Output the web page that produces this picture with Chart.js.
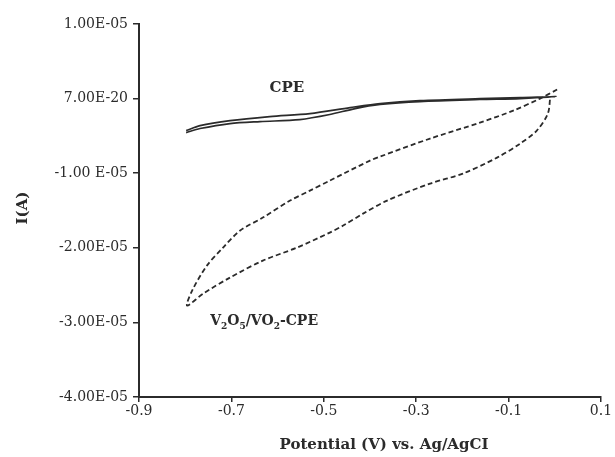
<!DOCTYPE html>
<html>
<head>
<meta charset="utf-8">
<script src="https://cdn.jsdelivr.net/npm/chart.js@4.4.1/dist/chart.umd.min.js"></script>
<style>
  html, body { margin: 0; padding: 0; background: #fff; }
  #wrap { width: 615px; height: 457px; }
</style>
</head>
<body>
<div id="wrap"><canvas id="cv"></canvas></div>
<script>
const xTicks = [-0.9, -0.7, -0.5, -0.3, -0.1, 0.1];
const yTicks = [-4e-5, -3e-5, -2e-5, -1e-5, 0, 1e-5];
const yTickLabels = ['-4.00E-05', '-3.00E-05', '-2.00E-05', '-1.00 E-05', '7.00E-20', '1.00E-05'];

// bare CPE, one closed loop (V, A)
const cpePotential = [-0.798, -0.768, -0.703, -0.617, -0.530, -0.443, -0.378, -0.292, -0.162, -0.075, 0.003,
  -0.075, -0.162, -0.292, -0.378, -0.432, -0.487, -0.552, -0.638, -0.703, -0.768, -0.798];
const cpeCurrent = [-0.429e-5, -0.362e-5, -0.295e-5, -0.241e-5, -0.201e-5, -0.121e-5, -0.067e-5, -0.027e-5, 0, 0.013e-5, 0.027e-5,
  0, -0.013e-5, -0.040e-5, -0.080e-5, -0.134e-5, -0.214e-5, -0.282e-5, -0.308e-5, -0.335e-5, -0.402e-5, -0.456e-5];

// V2O5/VO2 modified CPE
const vPotential = [0.005, -0.032, -0.090, -0.162, -0.270, -0.378, -0.400, -0.487, -0.530, -0.573, -0.632, -0.681, -0.718, -0.753, -0.785, -0.796,
  -0.761, -0.703, -0.632, -0.558, -0.487, -0.458, -0.415, -0.363, -0.270, -0.199, -0.125, -0.075, -0.039, -0.015, -0.010];
const vCurrent = [0.121e-5, 0, -0.161e-5, -0.322e-5, -0.536e-5, -0.777e-5, -0.831e-5, -1.099e-5, -1.233e-5, -1.367e-5, -1.595e-5, -1.769e-5, -1.997e-5, -2.239e-5, -2.574e-5, -2.775e-5,
  -2.614e-5, -2.399e-5, -2.172e-5, -1.997e-5, -1.796e-5, -1.702e-5, -1.542e-5, -1.367e-5, -1.139e-5, -1.005e-5, -0.791e-5, -0.603e-5, -0.429e-5, -0.201e-5, 0.013e-5];

const toPoints = (xs, ys) => xs.map((x, i) => ({ x: x, y: ys[i] }));

const FONT = 'DejaVu Serif';
const INK = '#2b2b2b';

// labels written on the plot
const textPlugin = {
  id: 'texts',
  afterDraw(chart) {
    const { ctx, scales } = chart;
    const px = v => scales.x.getPixelForValue(v);
    const py = v => scales.y.getPixelForValue(v);
    ctx.save();
    ctx.fillStyle = INK;
    ctx.textBaseline = 'middle';
    ctx.textAlign = 'center';
    ctx.font = `bold 15px "${FONT}"`;
    ctx.fillText('CPE', px(-0.58), py(0.147e-5));

    // V2O5/VO2-CPE with subscripts
    const parts = [['V', 0], ['2', 1], ['O', 0], ['5', 1], ['/VO', 0], ['2', 1], ['-CPE', 0]];
    let x = px(-0.746);
    const y = py(-2.99e-5);
    ctx.textAlign = 'left';
    parts.forEach(([t, sub]) => {
      ctx.font = sub ? `bold 9px "${FONT}"` : `bold 14px "${FONT}"`;
      ctx.fillText(t, x, sub ? y + 5 : y);
      x += ctx.measureText(t).width;
    });

    // axis titles
    ctx.font = `bold 15px "${FONT}"`;
    ctx.textAlign = 'center';
    ctx.fillText('Potential (V) vs. Ag/AgCI', 384, 445);
    ctx.translate(23, 208);
    ctx.rotate(-Math.PI / 2);
    ctx.fillText('I(A)', 0, 0);
    ctx.restore();
  }
};

new Chart(document.getElementById('cv'), {
  type: 'scatter',
  data: {
    datasets: [
      {
        label: 'CPE',
        data: toPoints(cpePotential, cpeCurrent),
        showLine: true,
        borderColor: INK,
        borderWidth: 1.6,
        pointRadius: 0,
        tension: 0.3,
      },
      {
        label: 'V2O5/VO2-CPE',
        data: toPoints(vPotential, vCurrent),
        showLine: true,
        borderColor: INK,
        borderWidth: 1.8,
        borderDash: [5, 3],
        pointRadius: 0,
        tension: 0.3,
      },
    ],
  },
  options: {
    responsive: true,
    maintainAspectRatio: false,
    animation: false,
    layout: { padding: { top: 24, right: 14, left: 0, bottom: 0 } },
    plugins: { legend: { display: false }, tooltip: { enabled: false } },
    scales: {
      x: {
        type: 'linear',
        min: -0.9,
        max: 0.1,
        afterBuildTicks: (s) => { s.ticks = xTicks.map((v) => ({ value: v })); },
        afterFit: (s) => { s.height = 60; },
        ticks: {
          autoSkip: false,
          maxRotation: 0,
          padding: 1,
          color: INK,
          font: { family: FONT, size: 14 },
          callback: (v) => String(Math.round(v * 10) / 10),
        },
        grid: { drawOnChartArea: false, tickLength: 5, color: INK, lineWidth: 1.5 },
        border: { color: INK, width: 2 },
      },
      y: {
        type: 'linear',
        min: -4e-5,
        max: 1e-5,
        afterBuildTicks: (s) => { s.ticks = yTicks.map((v) => ({ value: v })); },
        afterFit: (s) => { s.width = 139; },
        ticks: {
          autoSkip: false,
          padding: 5,
          color: INK,
          font: { family: FONT, size: 14 },
          callback: (v, i) => yTickLabels[i],
        },
        grid: { drawOnChartArea: false, tickLength: 6, color: INK, lineWidth: 1.5 },
        border: { color: INK, width: 2 },
      },
    },
  },
  plugins: [textPlugin],
});
</script>
</body>
</html>
